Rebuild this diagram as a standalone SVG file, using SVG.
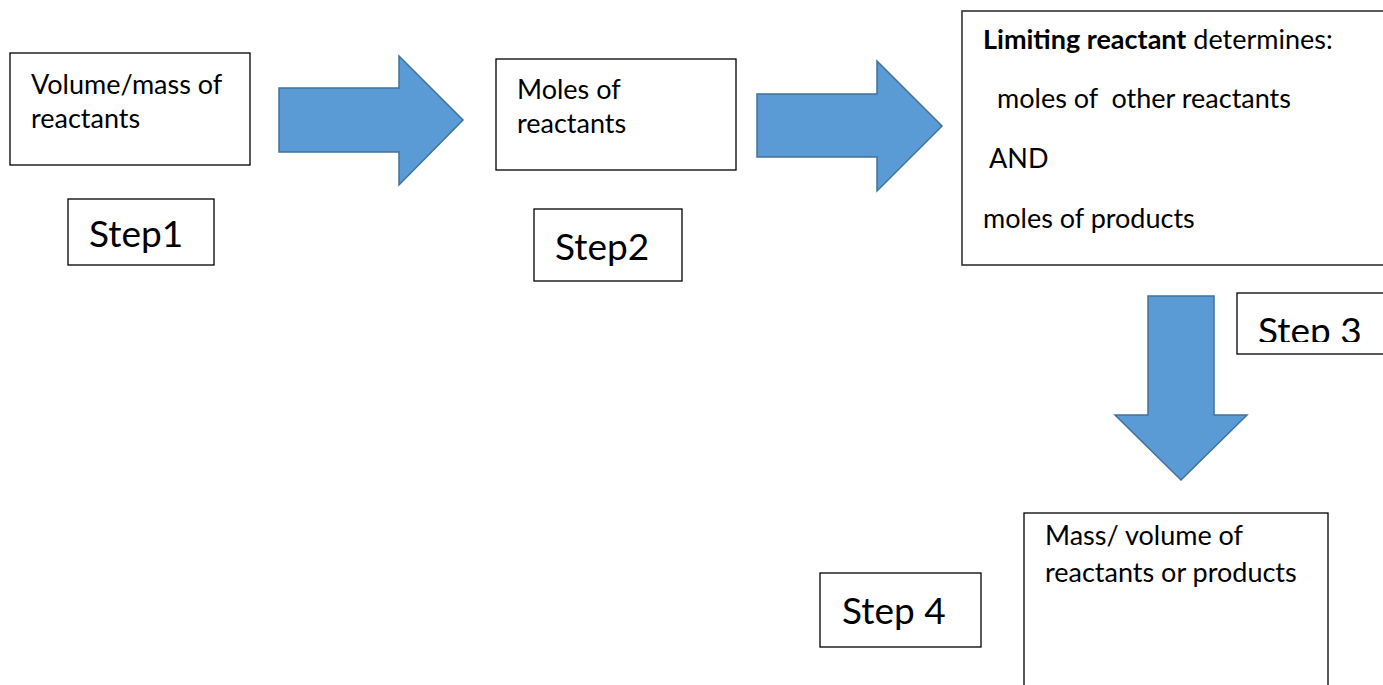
<svg xmlns="http://www.w3.org/2000/svg" width="1383" height="685" viewBox="0 0 1383 685">
<defs>
<style>
.box{fill:#fff;stroke:#000;stroke-width:1.3}
.arrow{fill:#5B9BD5;stroke:#41719C;stroke-width:1.5;stroke-linejoin:miter}
.t{font-family:Lato,"Liberation Sans",sans-serif;font-size:27px;fill:#000}
.s{font-family:Lato,"Liberation Sans",sans-serif;font-size:37px;fill:#000}
.b{font-weight:bold}
</style>
<clipPath id="clip3"><rect x="1237" y="293" width="150" height="49"/></clipPath>
</defs>
<rect width="1383" height="685" fill="#fff"/>
<g id="connectors">
<polygon class="arrow" points="279,88 399,88 399,56 463,120 399,185 399,152 279,152"/>
<polygon class="arrow" points="757,94 877,94 877,61 942,126 877,191 877,157 757,157"/>
<polygon class="arrow" points="1148,296 1214,296 1214,415 1247,415 1181,480 1115,415 1148,415"/>
</g>
<g id="node1">
<rect class="box" x="10" y="53" width="240" height="112"/>
<text class="t" x="31" y="94">Volume/mass of</text>
<text class="t" x="31" y="128">reactants</text>
</g>
<g id="step1">
<rect class="box" x="68" y="199" width="146" height="66"/>
<text class="s" x="89" y="247">Step1</text>
</g>
<g id="node2">
<rect class="box" x="496" y="59" width="240" height="111"/>
<text class="t" x="517" y="99">Moles of</text>
<text class="t" x="517" y="133">reactants</text>
</g>
<g id="step2">
<rect class="box" x="534" y="209" width="148" height="72"/>
<text class="s" x="555" y="260">Step2</text>
</g>
<g id="node3">
<rect class="box" x="962" y="11" width="430" height="254" style="stroke:#333;stroke-width:1.6"/>
<text class="t" x="983" y="49"><tspan class="b">Limiting reactant</tspan> determines:</text>
<text class="t" x="997" y="108" xml:space="preserve">moles of  other reactants</text>
<text class="t" x="989" y="168">AND</text>
<text class="t" x="983" y="228">moles of products</text>
</g>
<g id="step3">
<rect class="box" x="1237" y="293" width="155" height="61"/>
<text class="s" x="1258" y="344" clip-path="url(#clip3)">Step 3</text>
</g>
<g id="node4">
<rect class="box" x="1024" y="513" width="304" height="180"/>
<text class="t" x="1045" y="545">Mass/ volume of</text>
<text class="t" x="1045" y="582">reactants or products</text>
</g>
<g id="step4">
<rect class="box" x="820" y="573" width="161" height="74"/>
<text class="s" x="842" y="624">Step 4</text>
</g>
</svg>
